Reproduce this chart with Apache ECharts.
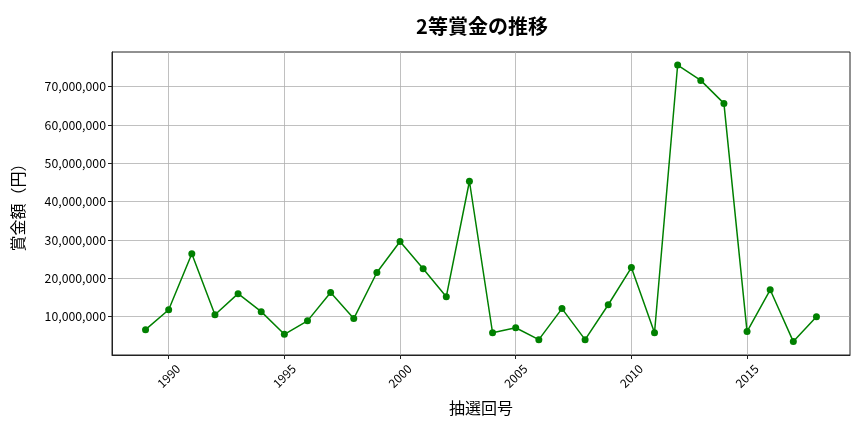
<!DOCTYPE html>
<html>
<head>
<meta charset="utf-8">
<script src="https://cdn.jsdelivr.net/npm/echarts@6/dist/echarts.min.js"></script>
<style>html,body{margin:0;padding:0;background:#fff}#c{width:864px;height:432px}</style>
</head>
<body>
<div id="c"></div>
<script>
const years = [1989,1990,1991,1992,1993,1994,1995,1996,1997,1998,1999,2000,2001,2002,2003,2004,2005,2006,2007,2008,2009,2010,2011,2012,2013,2014,2015,2016,2017,2018];
const prizes = [6600000,11800000,26400000,10500000,16000000,11300000,5400000,8900000,16300000,9500000,21500000,29600000,22500000,15200000,45300000,5800000,7100000,4000000,12100000,4000000,13100000,22800000,5800000,75600000,71600000,65600000,6100000,17000000,3500000,10000000];
const xTicks = [1990,1995,2000,2005,2010,2015];
const yTicks = [10000000,20000000,30000000,40000000,50000000,60000000,70000000];
const titleText = '2等賞金の推移';
const xName = '抽選回号';
const yName = '賞金額（円）';

const font = '"Noto Sans CJK JP", "Noto Sans", sans-serif';
const chart = echarts.init(document.getElementById('c'), null, {renderer: 'canvas'});
chart.setOption({
  animation: false,
  title: {text: titleText, left: 477, top: 11, textAlign: 'center',
    textStyle: {fontFamily: font, fontSize: 20, fontWeight: 'bold', color: '#000'}},
  grid: {left: 112, right: 14, top: 52, bottom: 77, show: true, borderColor: '#222', borderWidth: 1, containLabel: false},
  xAxis: {
    type: 'value', min: 1987.55, max: 2019.45,
    name: xName, nameLocation: 'middle', nameGap: 45,
    nameTextStyle: {fontFamily: font, fontSize: 16, color: '#000'},
    axisLine: {show: true, lineStyle: {color: '#222'}},
    axisTick: {show: true, length: 4, lineStyle: {color: '#222'}, customValues: xTicks},
    axisLabel: {customValues: xTicks, rotate: 45, align: 'center', verticalAlign: 'middle',
      fontFamily: font, fontSize: 12, color: '#000', margin: 21,
      formatter: v => String(v)},
    splitLine: {show: true, lineStyle: {color: '#b0b0b0', width: 0.8}}
  },
  yAxis: {
    type: 'value', min: 0, max: 79000000,
    name: yName, nameLocation: 'middle', nameGap: 86,
    nameTextStyle: {fontFamily: font, fontSize: 16, color: '#000'},
    axisLine: {show: true, lineStyle: {color: '#222'}},
    axisTick: {show: true, length: 4, lineStyle: {color: '#222'}, customValues: yTicks},
    axisLabel: {customValues: yTicks, fontFamily: font, fontSize: 12.3, color: '#000', margin: 6,
      formatter: v => v.toLocaleString('en-US')},
    splitLine: {show: true, lineStyle: {color: '#b0b0b0', width: 0.8}}
  },
  series: [{
    type: 'line',
    data: years.map((y, i) => [y, prizes[i]]),
    symbol: 'circle', symbolSize: 7,
    lineStyle: {color: '#008000', width: 1.5},
    itemStyle: {color: '#008000'}
  }]
});
</script>
</body>
</html>
